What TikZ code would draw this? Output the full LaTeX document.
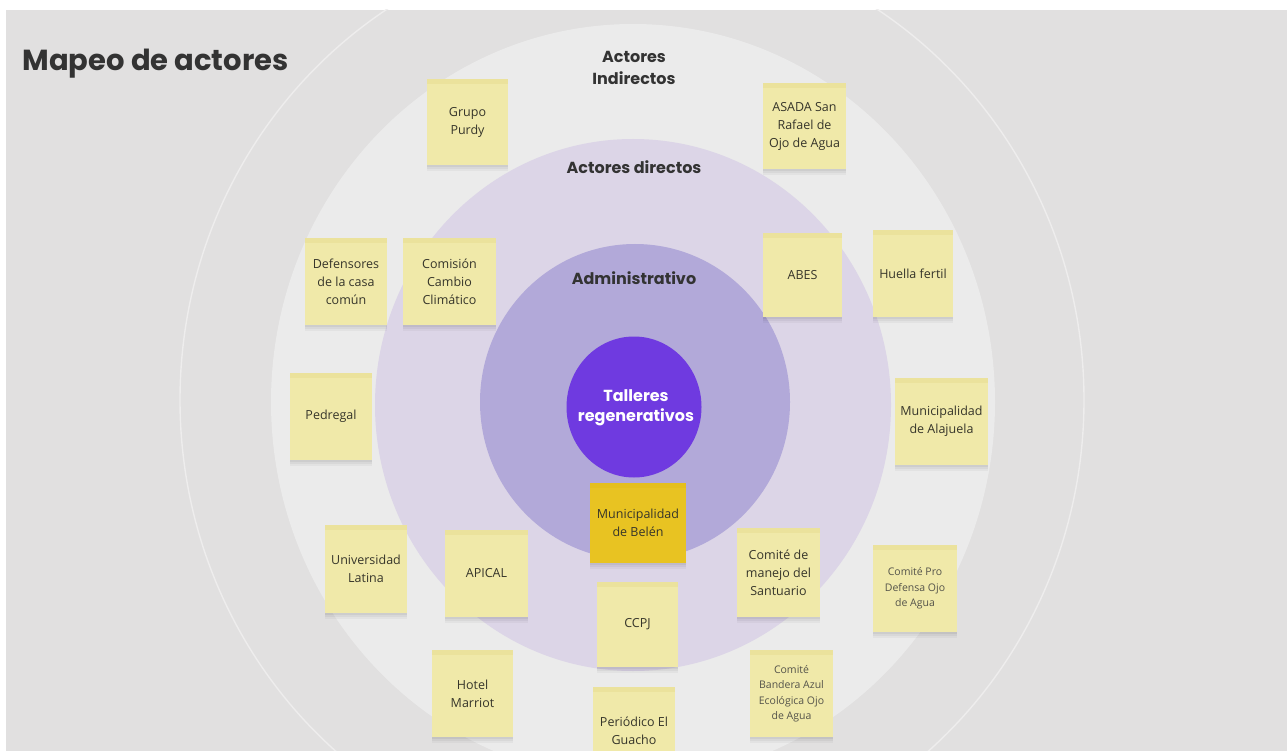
\documentclass[tikz,border=0pt]{standalone}
\usepackage{fontspec}
\setmainfont{Open Sans}
\newfontfamily\pop{Poppins}
\definecolor{bggray}{HTML}{E1E0E0}
\definecolor{lightc}{HTML}{EBEBEB}
\definecolor{ringc}{HTML}{EEEDED}
\definecolor{lavc}{HTML}{DCD5E7}
\definecolor{admc}{HTML}{B2A9D9}
\definecolor{purc}{HTML}{6F3AE0}
\definecolor{stickc}{HTML}{F0E9A9}
\definecolor{sticktop}{HTML}{EBE29C}
\definecolor{goldc}{HTML}{E8C322}
\definecolor{goldtop}{HTML}{E5BF1C}
\definecolor{stext}{HTML}{36352A}
\definecolor{ltext}{HTML}{333333}
\tikzset{
  softshadow/.style={
    preaction={fill=black, fill opacity=0.05, transform canvas={yshift=-2pt}},
    preaction={fill=black, fill opacity=0.045, transform canvas={yshift=-4pt}},
    preaction={fill=black, fill opacity=0.035, transform canvas={yshift=-6pt}}},
  sticky/.style={fill=stickc, draw=none, align=center, text=stext,
    font=\fontsize{12.5}{18}\selectfont, inner sep=2pt,
    minimum width=82pt, minimum height=86pt, softshadow,
    path picture={\fill[sticktop] (path picture bounding box.north west) rectangle ([yshift=-5pt]path picture bounding box.north east);}},
  smallsticky/.style={sticky, font=\fontsize{10.5}{15.5}\selectfont, text=stext!85},
  goldsticky/.style={sticky, fill=goldc,
    path picture={\fill[goldtop] (path picture bounding box.north west) rectangle ([yshift=-5pt]path picture bounding box.north east);}},
  ringlabel/.style={align=center, text=ltext, font=\pop\bfseries\fontsize{16}{22}\selectfont},
}
\begin{document}
\begin{tikzpicture}[x=1pt,y=-1pt]
\useasboundingbox (0,0) rectangle (1287,751);
\fill[white] (0,0) rectangle (1287,751);
\fill[bggray] (6,10) rectangle (1287,751);
\begin{scope}
  \clip (6,10) rectangle (1287,751);
  \draw[ringc, line width=1.4pt] (632,400) circle[x radius=452, y radius=465];
  \fill[lightc] (633,402) circle[x radius=362, y radius=378];
  \fill[lavc] (633,405) circle[x radius=258, y radius=266];
  \fill[admc] (635,402) circle[x radius=155, y radius=158];
  \fill[purc] (634,407) circle[x radius=67.5, y radius=70.5];
\end{scope}

\node[anchor=base west, text=ltext, font=\pop\bfseries\fontsize{29}{34}\selectfont] (title) at (19,71) {Mapeo de actores};

\node[ringlabel] (indir) at (634,68) {Actores\\Indirectos};
\node[ringlabel] (dir) at (634,167) {Actores directos};
\node[ringlabel] (adm) at (634,278) {Administrativo};
\node[ringlabel, text=white, font=\pop\bfseries\fontsize{16}{20}\selectfont] (talleres) at (636,408) {Talleres\\regenerativos};

\node[sticky, minimum width=81pt] (purdy) at (467.5,122) {Grupo\\Purdy};
\node[sticky, minimum width=83pt] (asada) at (804.5,126) {ASADA San\\Rafael de\\Ojo de Agua};
\node[sticky, minimum width=82pt, minimum height=87pt] (defensores) at (346,281.5) {Defensores\\de la casa\\común};
\node[sticky, minimum width=93pt, minimum height=87pt] (comision) at (449.5,281.5) {Comisión\\Cambio\\Climático};
\node[sticky, minimum width=82pt, minimum height=87pt] (pedregal) at (331,416.5) {Pedregal};
\node[sticky, minimum width=79pt, minimum height=84pt] (abes) at (802.5,275) {ABES};
\node[sticky, minimum width=80pt, minimum height=87pt] (huella) at (913,273.5) {Huella fertil};
\node[sticky, minimum width=93pt, minimum height=87pt] (alajuela) at (941.5,421.5) {Municipalidad\\de Alajuela};
\node[sticky, minimum width=82pt, minimum height=88pt] (latina) at (366,569) {Universidad\\Latina};
\node[sticky, minimum width=83pt, minimum height=87pt] (apical) at (486.5,573.5) {APICAL};
\node[sticky, minimum width=81pt, minimum height=87pt] (marriot) at (472.5,693.5) {Hotel\\Marriot};
\node[sticky, minimum width=81pt, minimum height=85pt] (ccpj) at (637.5,624.5) {CCPJ};
\node[goldsticky, minimum width=96pt, minimum height=80pt] (belen) at (638,523) {Municipalidad\\de Belén};
\node[sticky, minimum width=83pt, minimum height=89pt] (santuario) at (778.5,572.5) {Comité de\\manejo del\\Santuario};
\node[smallsticky, minimum width=84pt, minimum height=87pt] (prodefensa) at (915,588.5) {Comité Pro\\Defensa Ojo\\de Agua};
\node[smallsticky, minimum width=83pt, minimum height=87pt] (bandera) at (791.5,693.5) {Comité\\Bandera Azul\\Ecológica Ojo\\de Agua};
\node[sticky, minimum width=82pt, minimum height=87pt] (guacho) at (634,730.5) {Periódico El\\Guacho};
\end{tikzpicture}
\end{document}
